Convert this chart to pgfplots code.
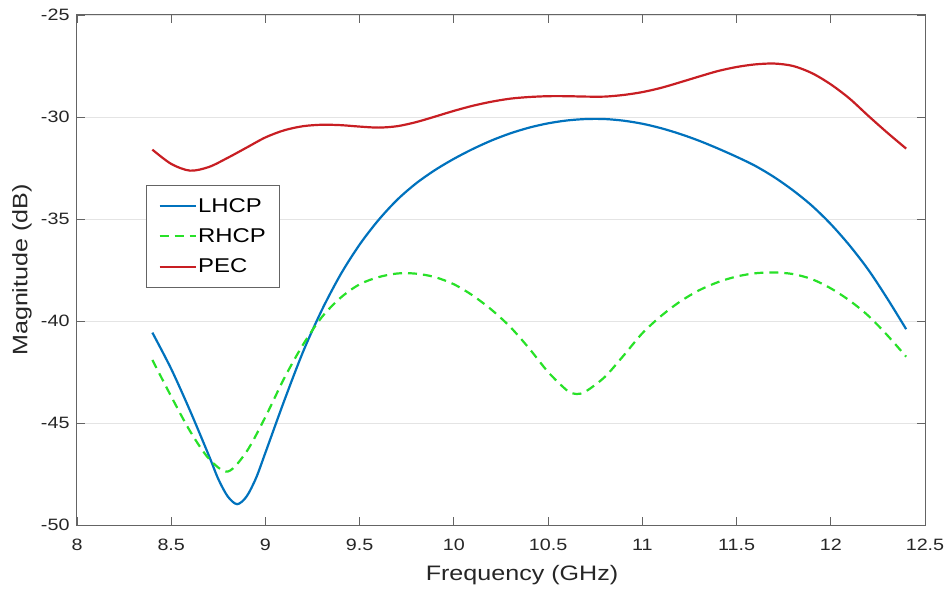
\documentclass[border=0pt]{standalone}
\usepackage{fontspec}
\setmainfont{Liberation Sans}[FakeStretch=1.2]
\usepackage{pgfplots}
\pgfplotsset{compat=1.18}
\definecolor{lhcp}{RGB}{0,114,189}
\definecolor{rhcp}{RGB}{40,225,40}
\definecolor{pec}{RGB}{200,30,35}
\definecolor{axisgray}{RGB}{100,100,100}
\definecolor{gridgray}{RGB}{228,228,228}
\begin{document}
\begin{tikzpicture}
\useasboundingbox (-77bp,-71bp) rectangle (874bp,525bp);
\begin{axis}[
  at={(0,0)}, anchor=south west,
  scale only axis, width=848bp, height=510bp,
  xmin=8, xmax=12.5, ymin=-50, ymax=-25,
  xtick={8,8.5,9,9.5,10,10.5,11,11.5,12,12.5},
  xticklabels={8,8.5,9,9.5,10,10.5,11,11.5,12,12.5},
  ytick={-50,-45,-40,-35,-30,-25},
  yticklabels={-50,-45,-40,-35,-30,-25},
  tick align=inside, major tick length=8bp,
  tick style={color=axisgray, line width=0.8bp},
  axis line style={axisgray, line width=1bp},
  ymajorgrids, grid style={gridgray, line width=0.8bp},
  tick label style={font=\fontsize{16.5}{19}\selectfont, color=black!85},
  xticklabel style={yshift=-11bp},
  yticklabel style={xshift=-4bp},
  xlabel={Frequency (GHz)},
  ylabel={Magnitude (dB)},
  label style={font=\fontsize{21}{25}\selectfont, color=black!85},
  xlabel style={at={(axis description cs:0.5248,0)}, anchor=center, yshift=-50bp},
  ylabel style={at={(axis description cs:-0.0649,0.5)}, anchor=center},
  legend style={at={(rel axis cs:0.0814,0.667)}, anchor=north west,
    draw=axisgray, line width=0.8bp, font=\fontsize{20}{24}\selectfont,
    inner xsep=12bp, inner ysep=10bp, row sep=9bp,
    nodes={inner xsep=1.5bp, inner ysep=3bp}},
  legend cell align=left,
  legend image code/.code={\draw[#1] (0bp,0bp) -- (36bp,0bp);},
  every axis plot/.append style={line width=2.2bp},
]
\addplot[color=lhcp, smooth] coordinates {
(8.4,-40.57) (8.5,-42.35) (8.6,-44.4) (8.7,-46.6) (8.75,-47.75) (8.8,-48.6) (8.85,-48.98)
(8.9,-48.6) (8.95,-47.7) (9.0,-46.45) (9.1,-43.9) (9.2,-41.5) (9.3,-39.45) (9.4,-37.7)
(9.5,-36.25) (9.6,-35.05) (9.7,-34.05) (9.8,-33.25) (9.9,-32.6) (10.0,-32.05)
(10.1,-31.57) (10.2,-31.15) (10.3,-30.8) (10.4,-30.52) (10.5,-30.31) (10.6,-30.17)
(10.7,-30.1) (10.8,-30.1) (10.9,-30.18) (11.0,-30.33) (11.1,-30.55) (11.2,-30.83)
(11.3,-31.16) (11.4,-31.54) (11.5,-31.95) (11.6,-32.4) (11.7,-32.95) (11.8,-33.6)
(11.9,-34.35) (12.0,-35.25) (12.1,-36.3) (12.2,-37.5) (12.3,-38.9) (12.4,-40.4)
};
\addlegendentry{LHCP}
\addplot[color=rhcp, smooth, dash pattern=on 9bp off 6bp] coordinates {
(8.4,-41.91) (8.5,-43.7) (8.6,-45.4) (8.7,-46.75) (8.8,-47.38) (8.9,-46.4)
(9.0,-44.7) (9.1,-42.8) (9.2,-41.15) (9.3,-39.8) (9.4,-38.85) (9.5,-38.2)
(9.6,-37.85) (9.7,-37.67) (9.8,-37.68) (9.9,-37.85) (10.0,-38.2) (10.1,-38.75)
(10.2,-39.45) (10.3,-40.3) (10.4,-41.35) (10.5,-42.5) (10.6,-43.4) (10.65,-43.58)
(10.7,-43.45) (10.8,-42.75) (10.9,-41.7) (11.0,-40.6) (11.1,-39.75) (11.2,-39.05)
(11.3,-38.5) (11.4,-38.1) (11.5,-37.82) (11.6,-37.66) (11.7,-37.62) (11.8,-37.7)
(11.9,-37.95) (12.0,-38.4) (12.1,-39.0) (12.2,-39.75) (12.3,-40.7) (12.4,-41.75)
};
\addlegendentry{RHCP}
\addplot[color=pec, smooth] coordinates {
(8.4,-31.6) (8.5,-32.3) (8.6,-32.63) (8.7,-32.45) (8.8,-32.0) (8.9,-31.5)
(9.0,-31.0) (9.1,-30.65) (9.2,-30.45) (9.3,-30.38) (9.4,-30.4) (9.5,-30.47)
(9.6,-30.52) (9.7,-30.45) (9.8,-30.25) (9.9,-29.98) (10.0,-29.7) (10.1,-29.45)
(10.2,-29.25) (10.3,-29.1) (10.4,-29.02) (10.5,-28.98) (10.6,-28.98) (10.7,-29.0)
(10.8,-29.0) (10.9,-28.92) (11.0,-28.78) (11.1,-28.57) (11.2,-28.3) (11.3,-28.02)
(11.4,-27.75) (11.5,-27.55) (11.6,-27.42) (11.7,-27.38) (11.8,-27.5) (11.9,-27.85)
(12.0,-28.4) (12.1,-29.1) (12.2,-29.95) (12.3,-30.77) (12.4,-31.55)
};
\addlegendentry{PEC}
\end{axis}
\end{tikzpicture}
\end{document}
